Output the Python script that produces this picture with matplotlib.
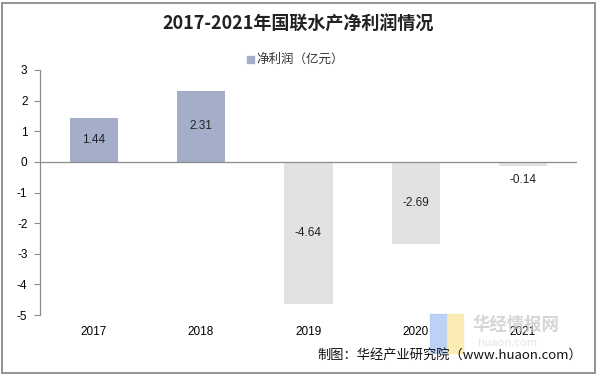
import matplotlib
matplotlib.use("Agg")
import matplotlib.pyplot as plt
from matplotlib.patches import Rectangle

plt.rcParams['font.family'] = ['Noto Sans CJK SC', 'DejaVu Sans']

years = ["2017", "2018", "2019", "2020", "2021"]
profit = [1.44, 2.31, -4.64, -2.69, -0.14]
title = "2017-2021年国联水产净利润情况"
legend_label = "净利润（亿元）"
source = "制图：华经产业研究院（www.huaon.com）"

pos_color = "#A5AEC8"
neg_color = "#E1E2E1"

fig = plt.figure(figsize=(5.97, 3.76), dpi=100)
ax = fig.add_axes([0.067, 0.162, 0.899, 0.652])

x = list(range(len(years)))
colors = [pos_color if v >= 0 else neg_color for v in profit]
ax.bar(x, profit, width=0.45, color=colors, zorder=2)

for xi, v in zip(x, profit):
    if abs(v) < 0.5:
        y = v - 0.45
    else:
        y = v / 2
    ax.text(xi, y, f"{v:.2f}", ha='center', va='center', fontsize=8.5,
            color='#222222', family='Liberation Sans', zorder=3)

ax.set_xlim(-0.5, len(years) - 0.5)
ax.set_ylim(-5, 3)
ax.set_yticks(range(-5, 4))
ax.set_yticklabels([str(t) for t in range(-5, 4)], family='Liberation Sans', fontsize=8.5)
ax.axhline(0, color='#8C8C8C', lw=0.9, zorder=3)

ax.set_xticks(x)
ax.set_xticklabels(years, family='Liberation Sans', fontsize=8.5)
ax.tick_params(axis='x', length=0, pad=8)
ax.tick_params(axis='y', length=4, color='#8C8C8C', pad=5)
for s in ['top', 'right', 'bottom']:
    ax.spines[s].set_visible(False)
ax.spines['left'].set_color('#8C8C8C')
ax.spines['left'].set_linewidth(0.9)

fig.text(0.5, 0.935, title, ha='center', va='center', fontsize=13,
         fontweight='bold', color='#222222')

# legend
fig.patches.append(Rectangle((0.414, 0.832), 0.011, 0.018, transform=fig.transFigure,
                             color=pos_color))
fig.text(0.429, 0.841, legend_label, ha='left', va='center', fontsize=9, color='#333333')

# watermark
fig.patches.append(Rectangle((0.72, 0.06), 0.028, 0.105, transform=fig.transFigure,
                             color='#AFCBF5', alpha=0.85, zorder=5))
fig.patches.append(Rectangle((0.748, 0.06), 0.028, 0.105, transform=fig.transFigure,
                             color='#FBEAA8', alpha=0.85, zorder=5))
fig.text(0.792, 0.135, "华经情报网", ha='left', va='center', fontsize=12.5,
         fontweight='bold', color='#C8C8C8', alpha=0.75, zorder=5)
fig.text(0.80, 0.088, "huaon.com", ha='left', va='center', fontsize=8,
         color='#DADADA', alpha=0.7, zorder=5)

fig.text(0.975, 0.055, source, ha='right', va='center', fontsize=9.5, color='#111111', zorder=6)

# outer border
fig.patches.append(Rectangle((0.004, 0.008), 0.992, 0.984, transform=fig.transFigure,
                             fill=False, edgecolor='#808080', lw=1.2))

fig.savefig("out.png", dpi=100)
